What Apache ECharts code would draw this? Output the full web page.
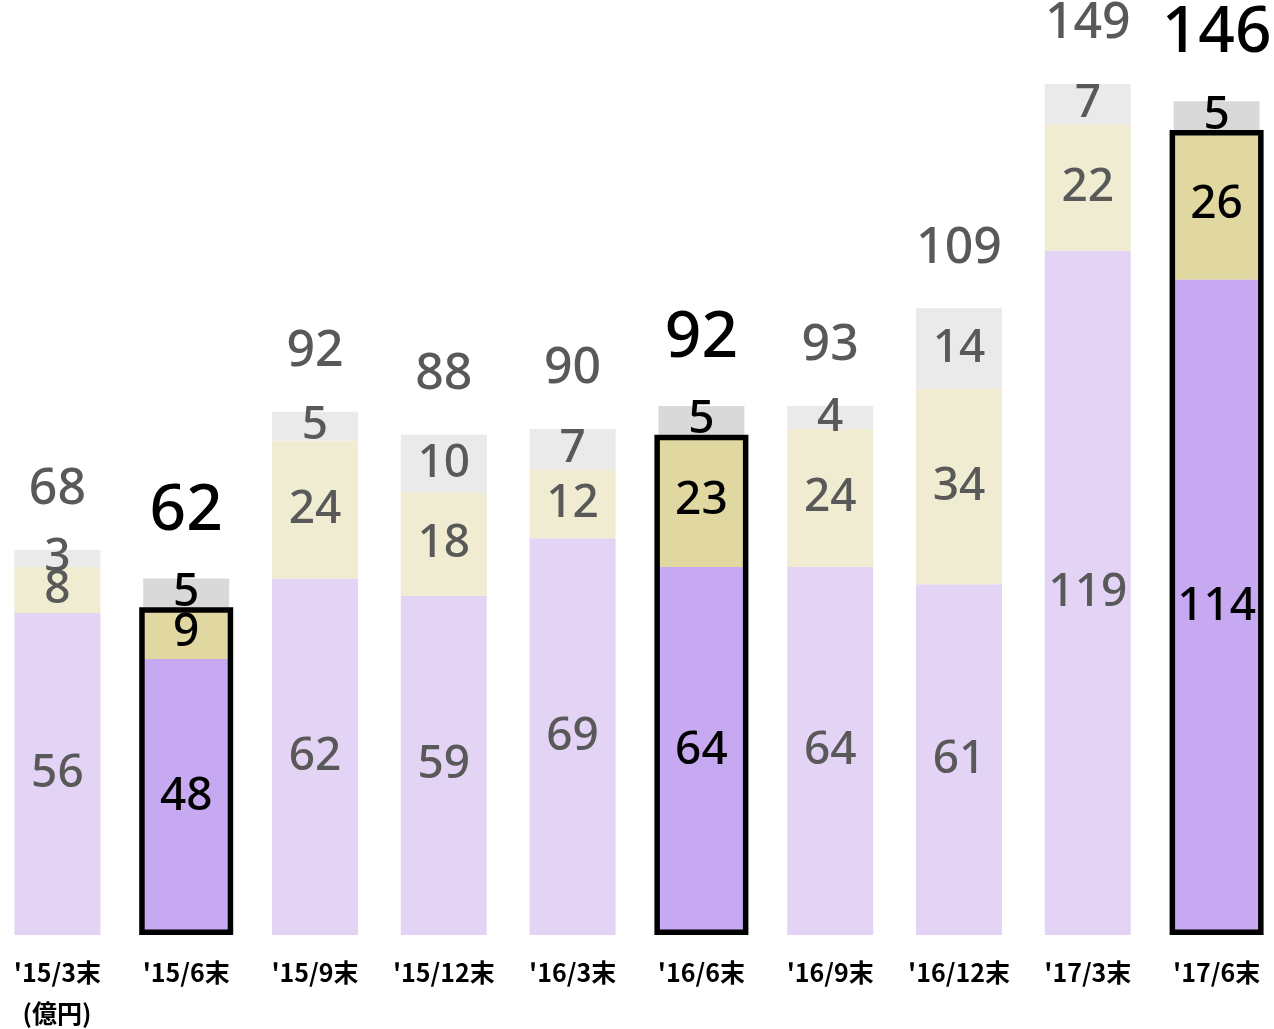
<!DOCTYPE html>
<html lang="ja">
<head>
    <meta charset="UTF-8">
    <title>残高推移</title>
    <script src="https://cdn.jsdelivr.net/npm/echarts@6.0.0/dist/echarts.min.js"></script>
    <style>
        html, body { margin: 0; padding: 0; background: #fff; }
    </style>
</head>
<body>
<div id="chart" style="width: 1274px; height: 1029px;"></div>
<script>
    const categories = ["'15/3末", "'15/6末", "'15/9末", "'15/12末", "'16/3末", "'16/6末", "'16/9末", "'16/12末", "'17/3末", "'17/6末"];
    const bottomValues = [56, 48, 62, 59, 69, 64, 64, 61, 119, 114];
    const middleValues = [8, 9, 24, 18, 12, 23, 24, 34, 22, 26];
    const topValues = [3, 5, 5, 10, 7, 5, 4, 14, 7, 5];
    const totals = [68, 62, 92, 88, 90, 92, 93, 109, 149, 146];
    const highlight = [1, 5, 9];
    const unitLabel = '(億円)';

    const isHi = i => highlight.indexOf(i) >= 0;

    function segment(values, light, dark) {
        return values.map((v, i) => ({
            value: v,
            itemStyle: { color: isHi(i) ? dark : light },
            label: { color: isHi(i) ? '#000' : '#595959' }
        }));
    }

    const innerLabel = {
        show: true,
        position: 'inside',
        fontFamily: 'Noto Sans',
        fontSize: 46,
        fontWeight: 500
    };

    const chart = echarts.init(document.querySelector('#chart'));

    chart.setOption({
        animation: false,
        grid: {
            left: -7,
            right: -7,
            top: 15,
            bottom: 94,
            outerBoundsMode: 'none'
        },
        xAxis: [{
            type: 'category',
            data: categories,
            axisLine: { show: false },
            axisTick: { show: false },
            axisLabel: {
                interval: 0,
                hideOverlap: false,
                margin: 25,
                color: '#000',
                fontFamily: 'Noto Sans CJK JP',
                fontWeight: 'bold',
                fontSize: 25
            }
        }, {
            // hidden twin axis so the outline bars centre on their own
            type: 'category',
            data: categories,
            show: false
        }],
        yAxis: {
            type: 'value',
            min: 0,
            max: 160,
            show: false
        },
        graphic: [{
            type: 'text',
            x: 57,
            y: 1013,
            style: {
                text: unitLabel,
                fill: '#000',
                font: 'bold 25px "Noto Sans CJK JP"',
                textAlign: 'center',
                textVerticalAlign: 'middle'
            }
        }],
        series: [
            {
                type: 'bar',
                stack: 'total',
                barWidth: 86,
                data: segment(bottomValues, '#e3d4f6', '#c6a9f1'),
                label: innerLabel
            },
            {
                type: 'bar',
                stack: 'total',
                barWidth: 86,
                data: segment(middleValues, '#efecd1', '#e0d8a0'),
                label: innerLabel
            },
            {
                type: 'bar',
                stack: 'total',
                barWidth: 86,
                data: segment(topValues, '#eaeaea', '#d9d9d9'),
                label: innerLabel
            },
            {
                type: 'bar',
                xAxisIndex: 1,
                barWidth: 94,
                z: 3,
                silent: true,
                data: bottomValues.map((v, i) => isHi(i) ? v + middleValues[i] : '-'),
                itemStyle: {
                    color: 'transparent',
                    borderColor: '#000',
                    borderWidth: 5.5
                }
            },
            {
                type: 'scatter',
                symbolSize: 0,
                z: 4,
                itemStyle: { opacity: 1 },
                data: totals.map((t, i) => ({
                    value: bottomValues[i] + middleValues[i] + topValues[i],
                    label: isHi(i)
                        ? { color: '#000', fontSize: 64 }
                        : { color: '#595959', fontSize: 50 }
                })),
                label: {
                    show: true,
                    position: 'top',
                    distance: 35,
                    fontFamily: 'Noto Sans',
                    fontWeight: 500,
                    formatter: p => totals[p.dataIndex]
                }
            }
        ]
    });
</script>
</body>
</html>
